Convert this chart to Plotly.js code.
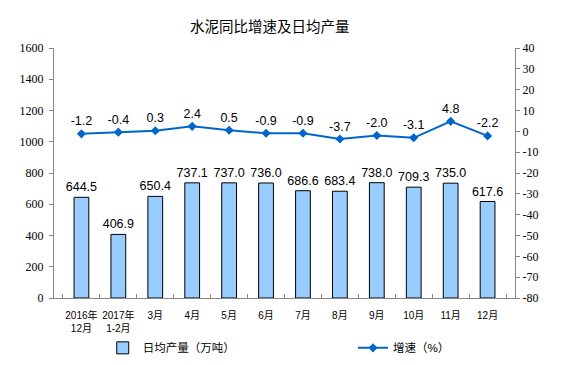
<!DOCTYPE html>
<html><head><meta charset="utf-8">
<script src="https://cdn.plot.ly/plotly-3.0.1.min.js"></script>
<style>html,body{margin:0;padding:0;background:#fff}</style>
</head><body>
<div id="chart" style="width:574px;height:365px"></div>
<script>
const categories = ["2016年<br>12月","2017年<br>1-2月","3月","4月","5月","6月","7月","8月","9月","10月","11月","12月"];
const dailyOutput = [644.5,406.9,650.4,737.1,737.0,736.0,686.6,683.4,738.0,709.3,735.0,617.6];
const growth = [-1.2,-0.4,0.3,2.4,0.5,-0.9,-0.9,-3.7,-2.0,-3.1,4.8,-2.2];
const leftTicks = [0,200,400,600,800,1000,1200,1400,1600];
const rightTicks = [-80,-70,-60,-50,-40,-30,-20,-10,0,10,20,30,40];

const sans = "Liberation Sans, Arial, Noto Sans CJK SC, sans-serif";
const serif = "Liberation Serif, Times New Roman, serif";
const cjk = "Liberation Sans, Noto Sans CJK SC, sans-serif";

const traces = [
  {type:'bar', name:'日均产量（万吨）', x:categories, y:dailyOutput, legend:'legend',
   text: dailyOutput.map(v=>v.toFixed(1)), textposition:'outside', cliponaxis:false,
   constraintext:'none',
   textfont:{family:sans,size:12.5,color:'#000'},
   marker:{color:'#99CCFF', line:{color:'#000',width:1}}, width:0.4},
  {type:'scatter', mode:'lines+markers+text', name:'增速（%）', x:categories, y:growth, yaxis:'y2',
   legend:'legend2',
   text: growth.map(v=>v.toFixed(1)), textposition:'top center', cliponaxis:false,
   textfont:{family:sans,size:12.5,color:'#000'},
   line:{color:'#0066CC',width:2}, marker:{symbol:'diamond',size:7,color:'#0066CC'}}
];

const legendFont = {family:cjk, size:11.5, color:'#000'};
const layout = {
  width:574, height:365,
  margin:{l:54, r:59, t:48, b:67},
  paper_bgcolor:'#fff', plot_bgcolor:'#fff',
  title:{text:'水泥同比增速及日均产量', x:0.47, xanchor:'center', y:0.925, yanchor:'middle',
         font:{family:"Noto Sans CJK SC, sans-serif", size:14.5, color:'#000'}},
  showlegend:true,
  legend:{orientation:'h', xref:'container', yref:'container', x:0.179, y:0.047,
          xanchor:'left', yanchor:'middle', font:legendFont},
  legend2:{orientation:'h', xref:'container', yref:'container', x:0.615, y:0.047,
           xanchor:'left', yanchor:'middle', font:legendFont},
  xaxis:{type:'category', showline:true, linecolor:'#888', linewidth:1, mirror:false,
         ticks:'inside', tickson:'boundaries', ticklen:4, tickcolor:'#888', tickangle:0,
         ticklabelstandoff:8,
         tickfont:{family:cjk, size:10, color:'#000'},
         showgrid:false, zeroline:false},
  yaxis:{range:[0,1600], tickvals:leftTicks, ticktext:leftTicks.map(String),
         showline:true, linecolor:'#888', linewidth:1, ticklabelstandoff:3,
         ticks:'outside', ticklen:4, tickcolor:'#888', showgrid:false, zeroline:false,
         tickfont:{family:serif, size:12, color:'#000'}},
  yaxis2:{range:[-80,40], tickvals:rightTicks, ticktext:rightTicks.map(String),
          overlaying:'y', side:'right',
          showline:true, linecolor:'#888', linewidth:1, ticks:'outside', ticklen:4, tickcolor:'#888',
          showgrid:false, zeroline:false, tickfont:{family:serif, size:12, color:'#000'}}
};
Plotly.newPlot('chart', traces, layout, {displayModeBar:false, staticPlot:true});
</script>
</body></html>
